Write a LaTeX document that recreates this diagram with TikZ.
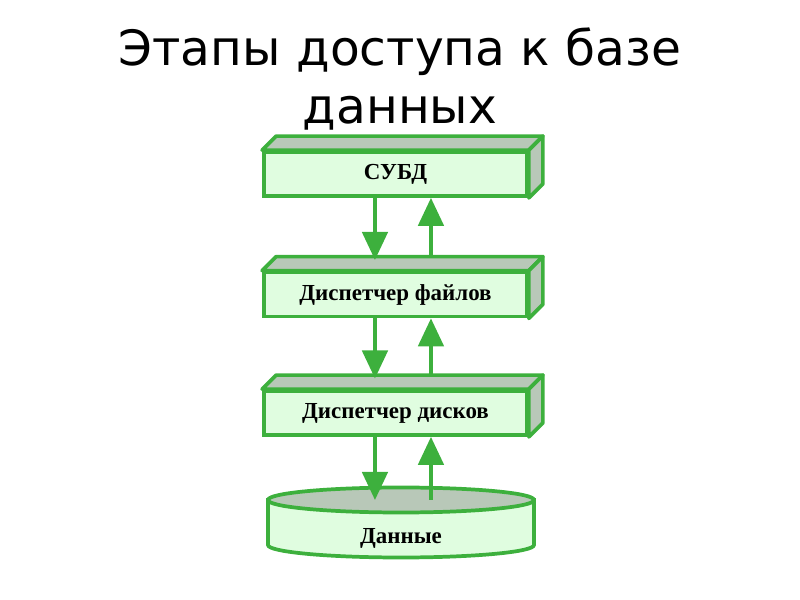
\documentclass[tikz,border=0pt]{standalone}
\usepackage{fontspec}
\setmainfont{Liberation Serif}
\newfontfamily\titlefont{DejaVu Sans}
\usetikzlibrary{arrows.meta}
\definecolor{boxline}{RGB}{61,176,61}
\definecolor{boxfill}{RGB}{224,253,224}
\definecolor{facefill}{RGB}{184,200,184}

\begin{document}
\begin{tikzpicture}[x=0.75pt,y=0.75pt,line width=2.8pt]
    \tikzset{
        stage/.style={draw=boxline, fill=boxfill, minimum width=197.25pt, minimum height=33pt,
                      inner sep=0pt, font=\bfseries\fontsize{17.2}{18}\selectfont},
        face/.style={draw=boxline, fill=facefill, line join=round},
        flow/.style={draw=boxline, -{Triangle[length=21pt,width=19pt]}, color=boxline}
    }
    \useasboundingbox (0,0) rectangle (800,600);
    % заголовок
    \node[font=\titlefont\fontsize{36.5}{43}\selectfont, align=center] (title) at (400,521)
        {Этапы доступа к базе\\данных};
    % уровни
    \node[stage] (subd) at (395.5,426) {СУБД};
    \node[stage] (fm) at (395.5,305.5) {Диспетчер файлов};
    \node[stage] (dm) at (395.5,187) {Диспетчер дисков};
    \foreach \n in {subd,fm,dm} {
        \draw[face] (\n.north west) -- ++(14,14) -- ([shift={(14,14)}]\n.north east) -- (\n.north east) -- cycle;
        \draw[face] (\n.north east) -- ++(14,14) -- ([shift={(14,14)}]\n.south east) -- (\n.south east) -- cycle;
    }
    % данные
    \draw[draw=boxline, fill=boxfill] (268,100) -- (268,55) arc[start angle=180, end angle=360, x radius=133, y radius=12.5]
        -- (534,100) -- cycle;
    \draw[face] (401,100) ellipse[x radius=133, y radius=12.5];
    \node[font=\bfseries\fontsize{17.2}{18}\selectfont] (data) at (401,62) {Данные};
    \coordinate (datatop) at (395.5,100);
    % стрелки
    \draw[flow] ([xshift=-15.4pt]subd.south) -- ([xshift=-15.4pt,yshift=8pt]fm.north);
    \draw[flow] ([xshift=26.6pt,yshift=10.5pt]fm.north) -- ([xshift=26.6pt]subd.south);
    \draw[flow] ([xshift=-15.4pt]fm.south) -- ([xshift=-15.4pt,yshift=8pt]dm.north);
    \draw[flow] ([xshift=26.6pt,yshift=10.5pt]dm.north) -- ([xshift=26.6pt]fm.south);
    \draw[flow] ([xshift=-15.4pt]dm.south) -- ([xshift=-15.4pt]datatop);
    \draw[flow] ([xshift=26.6pt]datatop) -- ([xshift=26.6pt]dm.south);
\end{tikzpicture}
\end{document}
